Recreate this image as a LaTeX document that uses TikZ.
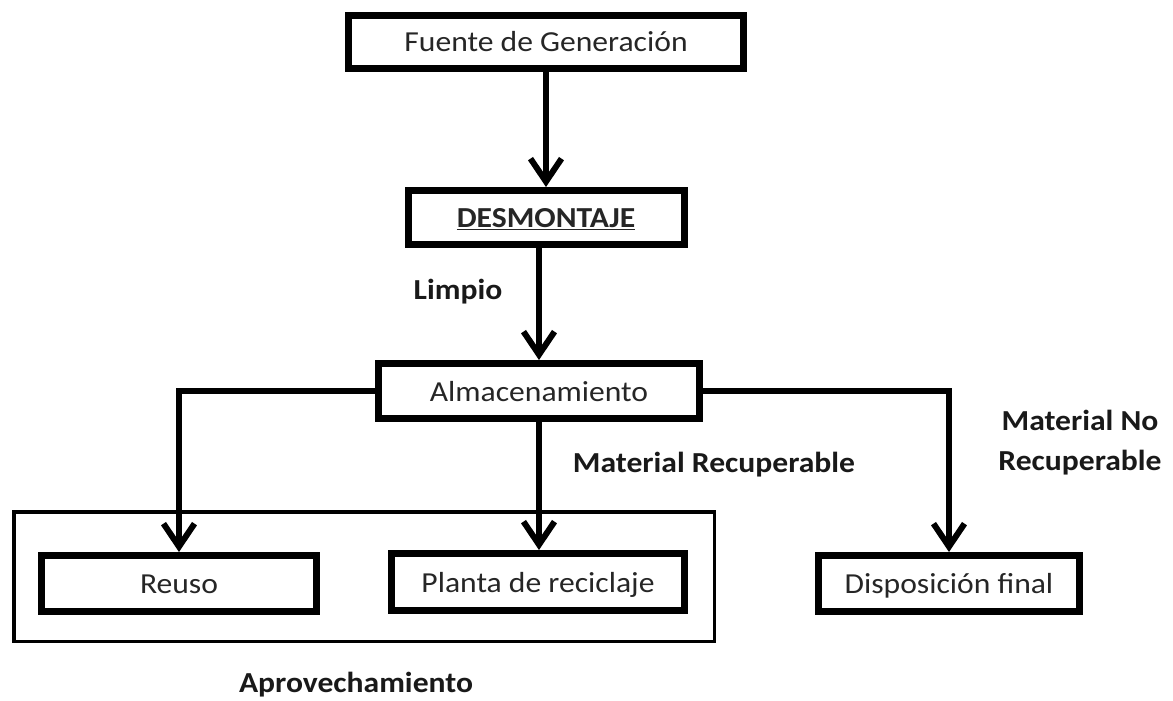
\documentclass[tikz,border=0pt]{standalone}
\usepackage{fontspec}
\setmainfont{Carlito}[FakeStretch=1.09]
\usetikzlibrary{arrows.meta}
\begin{document}
\begin{tikzpicture}[x=1pt,y=-1pt,
  box/.style={draw=black,line width=7pt,fill=white,rectangle,inner sep=0pt,
    font=\fontsize{29}{32}\selectfont,text=black!85,text height=22pt,text depth=2pt},
  lbl/.style={font=\fontsize{29}{40}\selectfont\bfseries,text=black!90,align=center},
  arr/.style={line width=6pt,-{Straight Barb[length=23pt,width=31pt]}},
  conn/.style={line width=6pt}]
\useasboundingbox (0,0) rectangle (1173,701);
\fill[white] (0,0) rectangle (1173,701);
% outer frame
\draw[line width=3.5pt] (13.75,511.75) rectangle (714.25,641.25);
% nodes
\node[box,minimum width=395pt,minimum height=53pt] (fuente) at (546,42) {Fuente de Generación};
\node[box,minimum width=276pt,minimum height=54pt] (desm) at (546,217.5) {\bfseries\underline{DESMONTAJE}};
\node[box,minimum width=321pt,minimum height=55pt] (alm) at (539,391) {Almacenamiento};
\node[box,minimum width=275pt,minimum height=56pt] (reuso) at (179,583.5) {Reuso};
\node[box,minimum width=293pt,minimum height=57pt] (planta) at (538,582) {Planta de reciclaje};
\node[box,minimum width=261pt,minimum height=56pt] (disp) at (949,583.5) {Disposición final};
% corner coordinates
\coordinate (cl) at (179,391);
\coordinate (cr) at (949,391);
% connectors
\draw[arr] (fuente.south) -- (desm.north);
\draw[arr] (desm.south -| alm.north) -- (alm.north);
\draw[arr] (alm.west) -- (cl) -- (reuso.north);
\draw[arr] (alm.south) -- (alm.south |- planta.north);
\draw[arr] (alm.east) -- (cr) -- (disp.north);
% labels
\node[lbl] (limpio) at (458,292) {Limpio};
\node[lbl] (matrec) at (714,465) {Material Recuperable};
\node[lbl] (matno) at (1080,443) {Material No\\Recuperable};
\node[lbl] (aprov) at (356,685) {Aprovechamiento};
\end{tikzpicture}
\end{document}
